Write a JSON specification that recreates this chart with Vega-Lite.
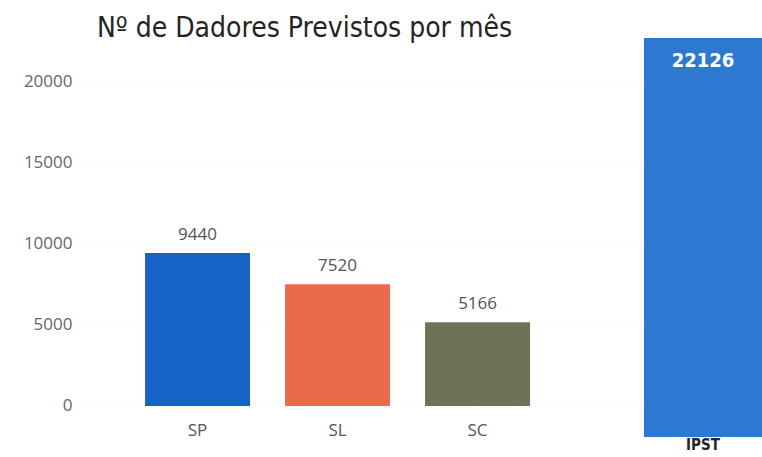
{
  "$schema": "https://vega.github.io/schema/vega-lite/v6.json",
  "width": 682,
  "height": 399,
  "autosize": "none",
  "padding": {"left": 80, "top": 38, "right": 0, "bottom": 20},
  "background": "white",
  "config": {"view": {"stroke": null}},
  "title": {
    "text": "Nº de Dadores Previstos por mês",
    "anchor": "start",
    "frame": "group",
    "dx": 17,
    "dy": 31,
    "baseline": "bottom",
    "offset": -2,
    "font": "DejaVu Sans Condensed, Liberation Sans Narrow, Roboto",
    "fontSize": 28,
    "fontWeight": "normal",
    "color": "#252423"
  },
  "datasets": {
    "regioes": [
      {"regiao": "SP", "dadores": 9440},
      {"regiao": "SL", "dadores": 7520},
      {"regiao": "SC", "dadores": 5166}
    ],
    "total": [
      {"regiao": "IPST", "dadores": 22126}
    ]
  },
  "layer": [
    {
      "data": {"name": "regioes"},
      "encoding": {
        "x": {
          "field": "regiao",
          "type": "nominal",
          "sort": ["SP", "SL", "SC"],
          "scale": {"paddingInner": 0.129, "paddingOuter": 1, "align": 0.202},
          "axis": {
            "title": null,
            "orient": "bottom",
            "offset": -31,
            "domain": false,
            "ticks": false,
            "labelPadding": 16,
            "labelAngle": 0,
            "labelFont": "Open Sans",
            "labelFontSize": 17,
            "labelColor": "#555555"
          }
        },
        "y": {
          "field": "dadores",
          "type": "quantitative",
          "scale": {"domain": [-1914, 22716], "nice": false, "zero": false},
          "axis": {
            "title": null,
            "values": [0, 5000, 10000, 15000, 20000],
            "format": "d",
            "domain": false,
            "ticks": false,
            "labelPadding": 8,
            "labelFont": "Open Sans",
            "labelFontSize": 17,
            "labelColor": "#666666",
            "grid": true,
            "gridColor": "#e6e6e6",
            "gridDash": [1, 4]
          }
        }
      },
      "layer": [
        {
          "mark": {"type": "bar", "width": {"band": 0.861}},
          "encoding": {
            "y2": {"datum": 0},
            "color": {
              "field": "regiao",
              "type": "nominal",
              "scale": {"domain": ["SP", "SL", "SC"], "range": ["#1662c6", "#ea6a4d", "#6e7358"]},
              "legend": null
            }
          }
        },
        {
          "mark": {"type": "text", "baseline": "bottom", "dy": -9, "font": "Open Sans", "fontSize": 17, "color": "#555555"},
          "encoding": {"text": {"field": "dadores", "type": "quantitative", "format": "d"}}
        }
      ]
    },
    {
      "data": {"name": "total"},
      "encoding": {
        "x": {
          "field": "regiao",
          "type": "nominal",
          "scale": {"paddingInner": 0.5816, "paddingOuter": 1, "align": 1},
          "axis": null
        },
        "y": {
          "field": "dadores",
          "type": "quantitative",
          "scale": {"domain": [0, 22126], "nice": false, "zero": false},
          "axis": null
        }
      },
      "layer": [
        {
          "mark": {"type": "bar", "color": "#2d79d2"},
          "encoding": {"y2": {"datum": 0}}
        },
        {
          "mark": {"type": "text", "baseline": "top", "dy": 13, "font": "DejaVu Sans Condensed, Liberation Sans Narrow, Roboto", "fontSize": 20, "fontWeight": "bold", "color": "white"},
          "encoding": {"text": {"field": "dadores", "type": "quantitative", "format": "d"}}
        },
        {
          "mark": {"type": "text", "baseline": "top", "dy": 1, "font": "DejaVu Sans Condensed, Liberation Sans Narrow, Roboto", "fontSize": 15, "fontWeight": "bold", "color": "#252423"},
          "encoding": {
            "y": {"datum": 0},
            "text": {"field": "regiao", "type": "nominal"}
          }
        }
      ]
    }
  ],
  "resolve": {"scale": {"x": "independent", "y": "independent", "color": "independent"}}
}
